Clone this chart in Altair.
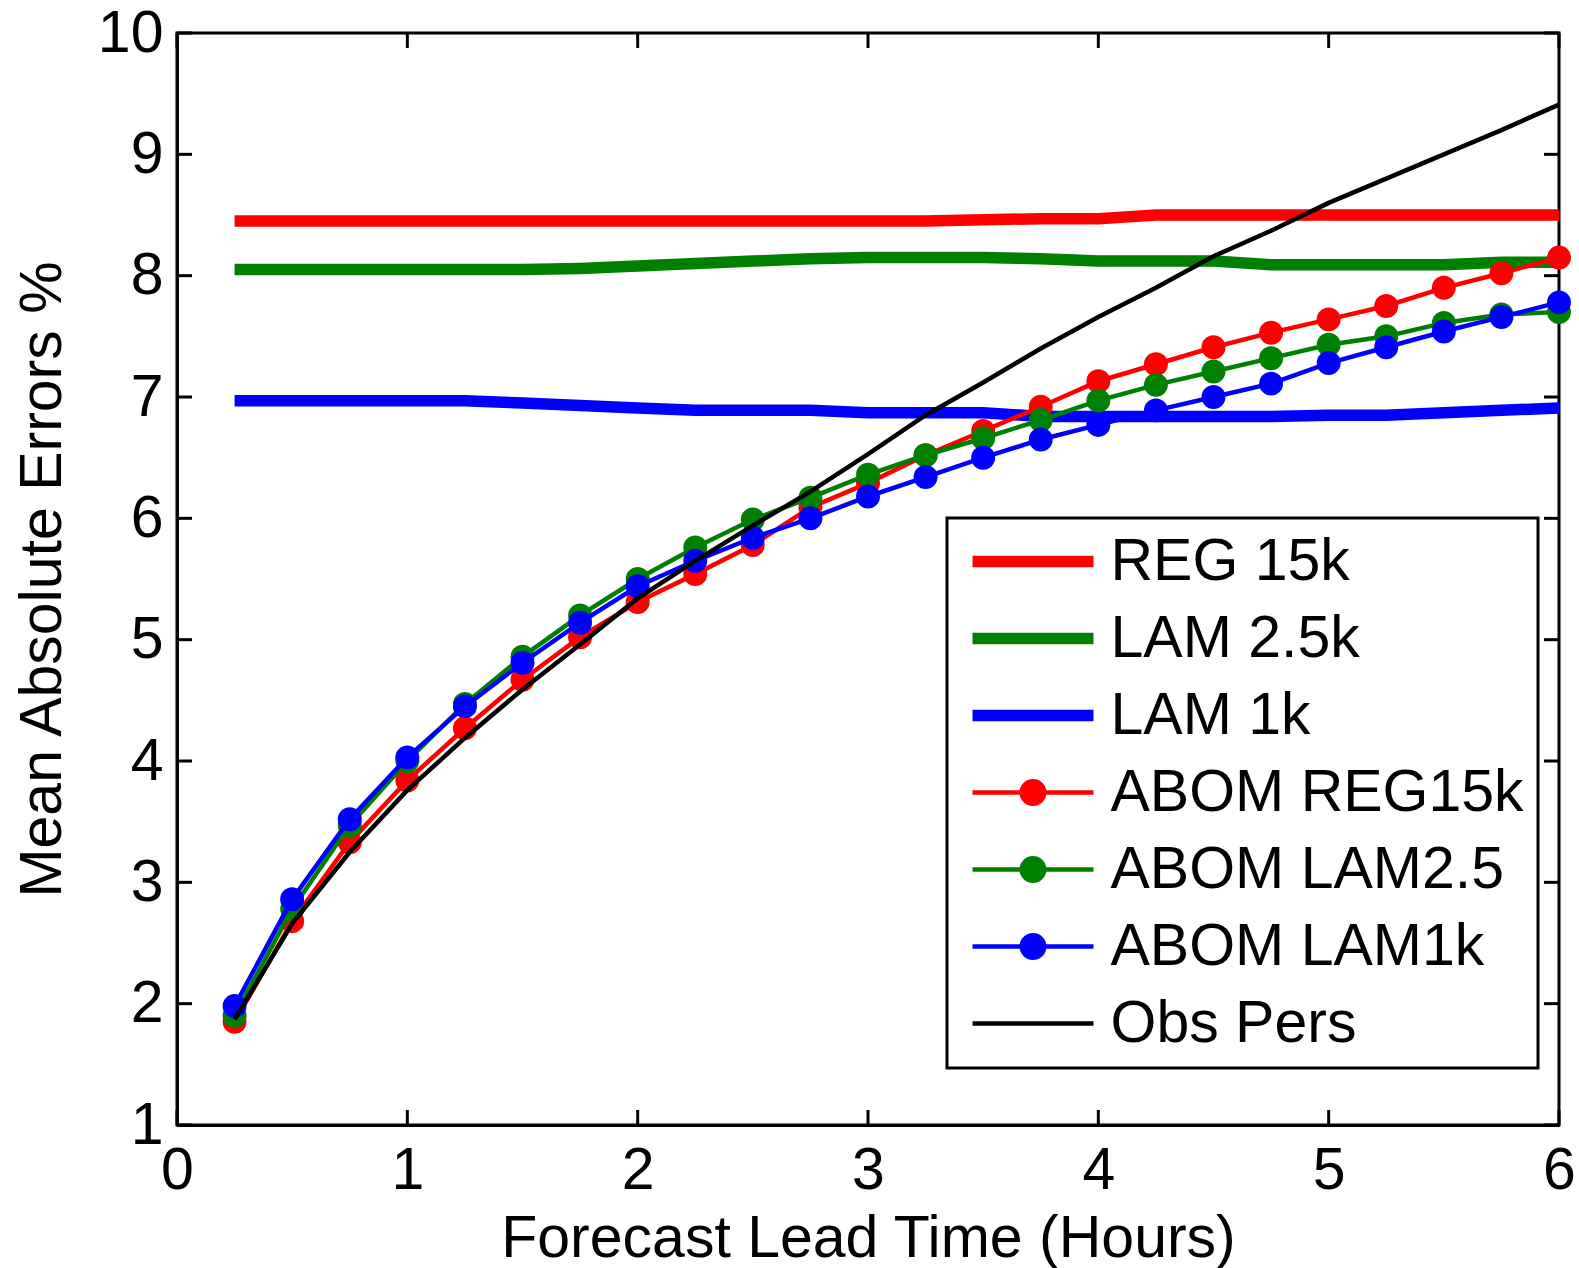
import altair as alt
import pandas as pd

# ---------------- data ----------------
lead_time = [0.25, 0.5, 0.75, 1.0, 1.25, 1.5, 1.75, 2.0, 2.25, 2.5, 2.75, 3.0,
             3.25, 3.5, 3.75, 4.0, 4.25, 4.5, 4.75, 5.0, 5.25, 5.5, 5.75, 6.0]

reg_15k = [8.45, 8.45, 8.45, 8.45, 8.45, 8.45, 8.45, 8.45, 8.45, 8.45, 8.45, 8.45,
           8.45, 8.46, 8.47, 8.47, 8.50, 8.50, 8.50, 8.50, 8.50, 8.50, 8.50, 8.50]
lam_25k = [8.05, 8.05, 8.05, 8.05, 8.05, 8.05, 8.06, 8.08, 8.10, 8.12, 8.14, 8.15,
           8.15, 8.15, 8.14, 8.12, 8.12, 8.12, 8.09, 8.09, 8.09, 8.09, 8.11, 8.11]
lam_1k = [6.97, 6.97, 6.97, 6.97, 6.97, 6.95, 6.93, 6.91, 6.89, 6.89, 6.89, 6.87,
          6.87, 6.87, 6.84, 6.84, 6.84, 6.84, 6.84, 6.85, 6.85, 6.87, 6.89, 6.91]
abom_reg15k = [1.85, 2.68, 3.33, 3.84, 4.27, 4.67, 5.02, 5.31, 5.54, 5.78, 6.09, 6.29,
               6.52, 6.72, 6.92, 7.13, 7.27, 7.41, 7.53, 7.64, 7.75, 7.90, 8.02, 8.15]
abom_lam25 = [1.90, 2.78, 3.47, 4.00, 4.47, 4.86, 5.20, 5.50, 5.76, 5.99, 6.17, 6.36,
              6.52, 6.66, 6.81, 6.97, 7.10, 7.21, 7.32, 7.43, 7.50, 7.61, 7.68, 7.70]
abom_lam1k = [1.98, 2.86, 3.52, 4.03, 4.45, 4.81, 5.14, 5.44, 5.65, 5.84, 6.00, 6.18,
              6.34, 6.50, 6.65, 6.77, 6.89, 7.00, 7.11, 7.28, 7.41, 7.54, 7.66, 7.78]
obs_pers = [1.87, 2.66, 3.25, 3.76, 4.19, 4.59, 4.96, 5.34, 5.65, 5.94, 6.22, 6.53,
            6.85, 7.12, 7.40, 7.66, 7.90, 8.16, 8.37, 8.60, 8.80, 9.00, 9.20, 9.41]

series_names = ["REG 15k", "LAM 2.5k", "LAM 1k", "ABOM REG15k", "ABOM LAM2.5",
                "ABOM LAM1k", "Obs Pers"]
series_colors = ["#ff0000", "#008000", "#0000ff", "#ff0000", "#008000", "#0000ff", "#000000"]

x_ticks = [0, 1, 2, 3, 4, 5, 6]
y_ticks = [1, 2, 3, 4, 5, 6, 7, 8, 9, 10]

# ---------------- styling ----------------
W, H = 1382, 1092
FONT = "Liberation Sans"
FS = 59
THICK = 11.5
THIN = 4.5
DOT = 573
TICK = 15

# legend symbols (unit = 13.5 px with symbolSize 729)
thick_sym = "M-4.48,-0.43H4.48V0.43H-4.48Z"
abom_sym = "M-4.48,-0.17H4.48V0.17H-4.48Z M1,0A1,1 0 1,1 -1,0A1,1 0 1,1 1,0Z"
thin_sym = "M-4.48,-0.17H4.48V0.17H-4.48Z"
series_symbols = [thick_sym, thick_sym, thick_sym, abom_sym, abom_sym, abom_sym, thin_sym]

xscale = alt.Scale(domain=[0, 6], nice=False, zero=False)
yscale = alt.Scale(domain=[1, 10], nice=False, zero=False)

x_axis = alt.Axis(values=x_ticks, format="d", title="Forecast Lead Time (Hours)",
                  labelFontSize=FS, labelFont=FONT, labelColor="black", labelPadding=16,
                  ticks=False, tickSize=0, grid=False, domainColor="black", domainWidth=3,
                  labelFlush=False, labelOverlap=False,
                  titleFontSize=FS, titleFont=FONT, titleFontWeight="normal",
                  titleColor="black", titleY=131, titleBaseline="alphabetic")
y_axis = alt.Axis(values=y_ticks, format="d", title="Mean Absolute Errors %",
                  labelFontSize=FS, labelFont=FONT, labelColor="black", labelPadding=14,
                  ticks=False, tickSize=0, grid=False, domainColor="black", domainWidth=3,
                  labelFlush=False, labelOverlap=False,
                  titleFontSize=FS, titleFont=FONT, titleFontWeight="normal",
                  titleColor="black", titleX=-117, titleBaseline="alphabetic")


def sdf(vals):
    return pd.DataFrame({"t": lead_time, "v": vals})


def enc(ch):
    return ch.encode(x=alt.X("t:Q", scale=xscale, axis=x_axis),
                     y=alt.Y("v:Q", scale=yscale, axis=y_axis))


layers = []
for vals, col in [(reg_15k, series_colors[0]), (lam_25k, series_colors[1]), (lam_1k, series_colors[2])]:
    layers.append(enc(alt.Chart(sdf(vals)).mark_line(color=col, strokeWidth=THICK)))

for vals, col in [(abom_reg15k, series_colors[3]), (abom_lam25, series_colors[4]), (abom_lam1k, series_colors[5])]:
    base = alt.Chart(sdf(vals))
    layers.append(enc(base.mark_line(color=col, strokeWidth=THIN)))
    layers.append(enc(base.mark_circle(color=col, size=DOT, opacity=1)))

layers.append(enc(alt.Chart(sdf(obs_pers)).mark_line(color="black", strokeWidth=THIN)))

# inward ticks on all four sides
xdf = pd.DataFrame({"t": x_ticks})
ydf = pd.DataFrame({"v": y_ticks})
rule = dict(color="black", strokeWidth=3)
layers.append(alt.Chart(xdf).mark_rule(**rule).encode(
    x=alt.X("t:Q", scale=xscale, axis=x_axis), y=alt.value(H), y2=alt.value(H - TICK)))
layers.append(alt.Chart(xdf).mark_rule(**rule).encode(
    x=alt.X("t:Q", scale=xscale, axis=x_axis), y=alt.value(0), y2=alt.value(TICK)))
layers.append(alt.Chart(ydf).mark_rule(**rule).encode(
    y=alt.Y("v:Q", scale=yscale, axis=y_axis), x=alt.value(0), x2=alt.value(TICK)))
layers.append(alt.Chart(ydf).mark_rule(**rule).encode(
    y=alt.Y("v:Q", scale=yscale, axis=y_axis), x=alt.value(W), x2=alt.value(W - TICK)))

# legend carrier layer (points clipped out of view)
legend_df = pd.DataFrame({"series": series_names})
layers.append(alt.Chart(legend_df).mark_point(filled=True, clip=True).encode(
    x=alt.value(-5000), y=alt.value(-5000),
    color=alt.Color("series:N", scale=alt.Scale(domain=series_names, range=series_colors),
                    title=None),
    shape=alt.Shape("series:N", scale=alt.Scale(domain=series_names, range=series_symbols),
                    title=None),
))

chart = alt.layer(*layers).properties(
    width=W, height=H,
    padding={"left": 177, "top": 33, "right": 20, "bottom": 143},
    autosize=alt.AutoSizeParams(type="none"),
    background="white",
).configure(font=FONT).configure_view(
    stroke="black", strokeWidth=3
).configure_legend(
    orient="none", legendX=770, legendY=485, direction="vertical",
    padding=14, strokeColor="black", strokeWidth=3, fillColor="white",
    symbolSize=729, symbolStrokeWidth=0, symbolOffset=42.5, labelOffset=48,
    labelFontSize=FS, labelFont=FONT, labelColor="black", labelLimit=0,
    rowPadding=17, symbolOpacity=1,
)

chart.save("out.html", embed_options={"renderer": "svg", "actions": False})
